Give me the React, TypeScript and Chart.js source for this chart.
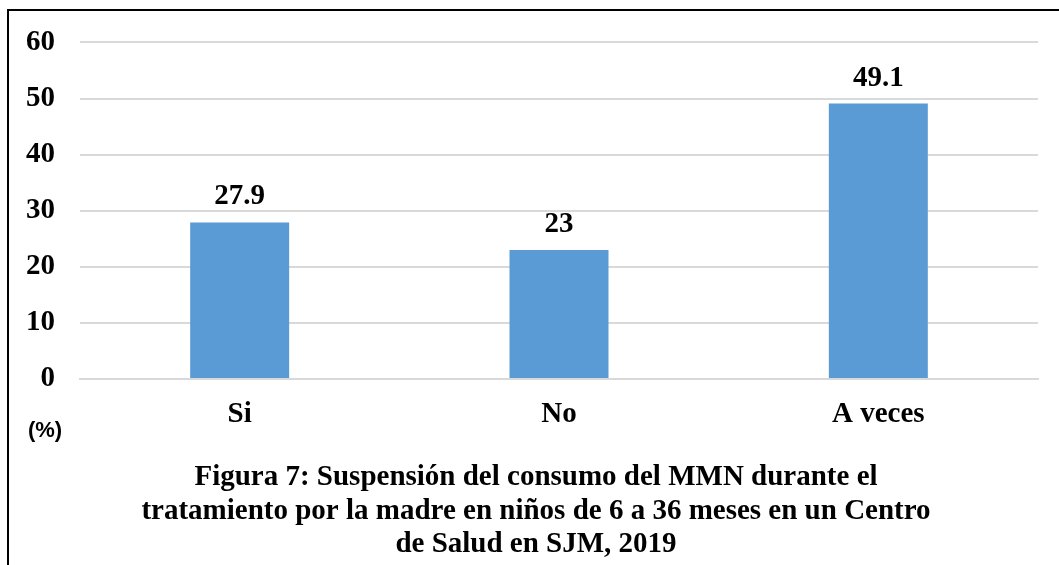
import React, { useEffect, useRef } from "react";
import { Chart, registerables } from "chart.js";

Chart.register(...registerables);

const categories = ["Si", "No", "A veces"];
const values = [27.9, 23, 49.1];
const valueLabels = ["27.9", "23", "49.1"];
const yMin = 0;
const yMax = 60;
const yStep = 10;
const unitLabel = "(%)";
const titleLines = [
  "Figura 7: Suspensión del consumo del MMN durante el",
  "tratamiento por la madre en niños de 6 a 36 meses en un Centro",
  "de Salud en SJM, 2019",
];

const SERIF = "'Liberation Serif', 'Times New Roman', serif";
const SANS = "'Liberation Sans', Arial, sans-serif";
const FS = 29;

const extrasPlugin = {
  id: "extras",
  afterDatasetsDraw(chart: any) {
    const ctx = chart.ctx;
    const meta = chart.getDatasetMeta(0);
    ctx.save();
    ctx.fillStyle = "#000";
    ctx.font = `bold ${FS}px ${SERIF}`;
    ctx.textAlign = "center";
    ctx.textBaseline = "alphabetic";
    meta.data.forEach((bar: any, i: number) => {
      ctx.fillText(valueLabels[i], bar.x, bar.y - 18);
    });
    ctx.font = `bold 22px ${SANS}`;
    ctx.textBaseline = "middle";
    ctx.fillText(unitLabel, 45, 431);
    ctx.restore();
  },
};

export default function App() {
  const ref = useRef<HTMLCanvasElement>(null);

  useEffect(() => {
    if (!ref.current) return;
    const chart = new Chart(ref.current, {
      type: "bar",
      data: {
        labels: categories,
        datasets: [
          {
            data: values,
            backgroundColor: "#5B9BD5",
            barPercentage: 0.31,
            categoryPercentage: 1,
          },
        ],
      },
      options: {
        animation: false,
        responsive: false,
        devicePixelRatio: 1,
        layout: { padding: { left: 15, top: 39, right: 2, bottom: 0 } },
        plugins: {
          legend: { display: false },
          tooltip: { enabled: false },
          title: {
            display: true,
            position: "bottom",
            text: titleLines,
            color: "#000",
            font: { family: SERIF, size: FS, weight: "bold", lineHeight: "33.3px" },
            padding: { top: 0, bottom: 4 },
          },
        },
        scales: {
          x: {
            grid: { display: false, drawTicks: false },
            border: { display: true, color: "#d9d9d9", width: 2 },
            ticks: {
              color: "#000",
              font: { family: SERIF, size: FS, weight: "bold" },
              padding: 18,
            },
            afterFit: (s: any) => {
              s.height = 82.1;
            },
          },
          y: {
            min: yMin,
            max: yMax,
            grid: { color: "#d9d9d9", lineWidth: 2, drawTicks: false },
            border: { display: false },
            ticks: {
              stepSize: yStep,
              color: "#000",
              font: { family: SERIF, size: FS, weight: "bold" },
              padding: 25,
            },
            afterFit: (s: any) => {
              s.width = 65;
            },
          },
          ySpace: {
            position: "right",
            display: true,
            grid: { display: false, drawTicks: false },
            border: { display: false },
            ticks: { display: false },
            afterFit: (s: any) => {
              s.width = 19;
            },
          },
        },
      },
      plugins: [extrasPlugin],
    });
    return () => chart.destroy();
  }, []);

  return (
    <>
      <div
        style={{
          position: "fixed",
          left: 7,
          top: 9,
          width: 1052,
          height: 556,
          boxSizing: "border-box",
          borderLeft: "2px solid #000",
          borderTop: "2px solid #000",
        }}
      />
      <canvas
        ref={ref}
        width={1059}
        height={565}
        style={{ position: "fixed", left: 0, top: 0, width: 1059, height: 565 }}
      />
    </>
  );
}
